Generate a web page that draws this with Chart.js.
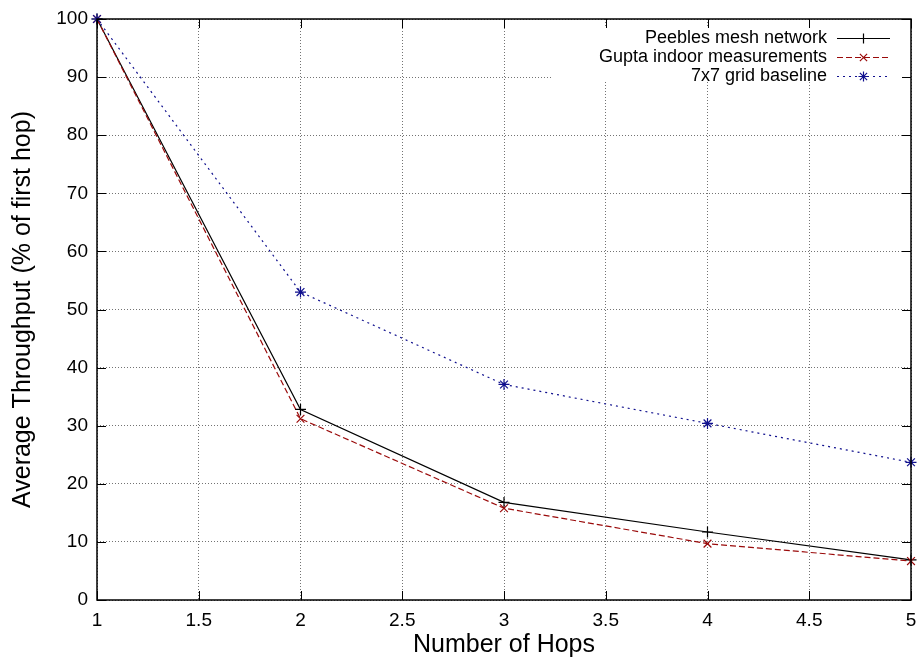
<!DOCTYPE html>
<html>
<head>
<meta charset="utf-8">
<script src="https://cdn.jsdelivr.net/npm/chart.js@4/dist/chart.umd.min.js"></script>
<style>
  html, body { margin: 0; padding: 0; background: #fff; }
  #wrap { width: 918px; height: 660px; }
</style>
</head>
<body>
<div id="wrap"><canvas id="myChart" width="918" height="660"></canvas></div>
<script>
// hops on the x axis
const hops = [1, 2, 3, 4, 5];
// throughput as % of the first hop
const peebles = [100, 32.8, 16.8, 11.7, 6.9];
const gupta = [100, 31.2, 15.8, 9.7, 6.7];
const grid7x7 = [100, 53.0, 37.1, 30.4, 23.7];

const seriesNames = ['Peebles mesh network', 'Gupta indoor measurements', '7x7 grid baseline'];
const xTitle = 'Number of Hops';
const yTitle = 'Average Throughput (% of first hop)';

const FONT = '"Liberation Sans", Arial, Helvetica, sans-serif';
const colors = ['#000000', '#9a0a0a', '#10108e'];
const dashes = [[], [6, 3], [2, 4]];
const markers = ['cross', 'crossRot', 'star'];

function toPoints(ys) {
    return hops.map((h, i) => ({ x: h, y: ys[i] }));
}

// draws one legend marker the gnuplot way
function drawMarker(ctx, kind, x, y, r) {
    ctx.beginPath();
    if (kind == 'cross' || kind == 'star') {
        ctx.moveTo(x - r, y); ctx.lineTo(x + r, y);
        ctx.moveTo(x, y - r); ctx.lineTo(x, y + r);
    }
    if (kind == 'crossRot' || kind == 'star') {
        const d = r * 0.72;
        ctx.moveTo(x - d, y - d); ctx.lineTo(x + d, y + d);
        ctx.moveTo(x - d, y + d); ctx.lineTo(x + d, y - d);
    }
    ctx.stroke();
}

const framePlugin = {
    id: 'frame',
    beforeDatasetsDraw(chart) {
        // key box is opaque, hides the grid behind it
        const ctx = chart.ctx;
        ctx.save();
        ctx.fillStyle = '#fff';
        ctx.fillRect(551, 28, 358, 53);
        ctx.restore();
    },
    afterDraw(chart) {
        const ctx = chart.ctx;
        const a = chart.chartArea;
        const xs = chart.scales.x, ys = chart.scales.y;
        ctx.save();
        ctx.strokeStyle = '#000';
        ctx.lineWidth = 1;
        // mirrored inward ticks
        xs.ticks.forEach(t => {
            const px = Math.round(xs.getPixelForValue(t.value)) + 0.5;
            ctx.beginPath();
            ctx.moveTo(px, a.bottom); ctx.lineTo(px, a.bottom - 9);
            ctx.moveTo(px, a.top); ctx.lineTo(px, a.top + 9);
            ctx.stroke();
        });
        ys.ticks.forEach(t => {
            const py = Math.round(ys.getPixelForValue(t.value)) + 0.5;
            ctx.beginPath();
            ctx.moveTo(a.left, py); ctx.lineTo(a.left + 9, py);
            ctx.moveTo(a.right, py); ctx.lineTo(a.right - 9, py);
            ctx.stroke();
        });
        ctx.lineWidth = 1.5;
        ctx.strokeRect(a.left, a.top, a.right - a.left, a.bottom - a.top);

        // key
        ctx.font = '18px ' + FONT;
        ctx.textAlign = 'right';
        ctx.textBaseline = 'middle';
        ctx.lineWidth = 1.2;
        seriesNames.forEach((name, i) => {
            const y = 38 + i * 19;
            ctx.fillStyle = '#000';
            ctx.fillText(name, 827, y);
            ctx.strokeStyle = colors[i];
            ctx.setLineDash(dashes[i]);
            ctx.beginPath();
            ctx.moveTo(837, y + 0.5); ctx.lineTo(890, y + 0.5);
            ctx.stroke();
            ctx.setLineDash([]);
            drawMarker(ctx, markers[i], 863.5, y + 0.5, 5);
        });
        ctx.restore();
    }
};

const datasets = [grid7x7, gupta, peebles].map((vals, k) => {
    const i = 2 - k;
    return {
        label: seriesNames[i],
        data: toPoints(vals),
        borderColor: colors[i],
        backgroundColor: colors[i],
        borderWidth: 1.2,
        borderDash: dashes[i],
        pointStyle: markers[i],
        pointRadius: 5.5,
        pointBorderWidth: 1.2,
        pointBorderColor: colors[i],
        pointHoverRadius: 5.5,
        tension: 0,
        fill: false,
        clip: false
    };
});

new Chart(document.getElementById('myChart'), {
    type: 'line',
    data: { datasets: datasets },
    plugins: [framePlugin],
    options: {
        responsive: false,
        animation: false,
        devicePixelRatio: 1,
        layout: { autoPadding: false, padding: { top: 19, right: 7, left: 0, bottom: 0 } },
        plugins: { legend: { display: false }, tooltip: { enabled: false } },
        scales: {
            x: {
                type: 'linear',
                min: 1, max: 5,
                afterFit: s => { s.height = 60; s.paddingLeft = 0; s.paddingRight = 0; },
                ticks: { stepSize: 0.5, color: '#000', padding: 9, font: { family: FONT, size: 19 }, maxRotation: 0,
                    callback: v => String(v) },
                grid: { color: 'rgba(0,0,0,0.55)', lineWidth: 1, drawTicks: false },
                border: { display: false, dash: [1, 2] },
                title: { display: true, text: xTitle, color: '#000', font: { family: FONT, size: 25 }, padding: 0 }
            },
            y: {
                min: 0, max: 100,
                afterFit: s => { s.width = 97; s.paddingTop = 0; s.paddingBottom = 0; },
                ticks: { stepSize: 10, color: '#000', padding: 9, font: { family: FONT, size: 19 } },
                grid: { color: 'rgba(0,0,0,0.55)', lineWidth: 1, drawTicks: false },
                border: { display: false, dash: [1, 2] },
                title: { display: true, text: yTitle, color: '#000', font: { family: FONT, size: 25 }, padding: { top: 8, bottom: 0 } }
            }
        }
    }
});
</script>
</body>
</html>
